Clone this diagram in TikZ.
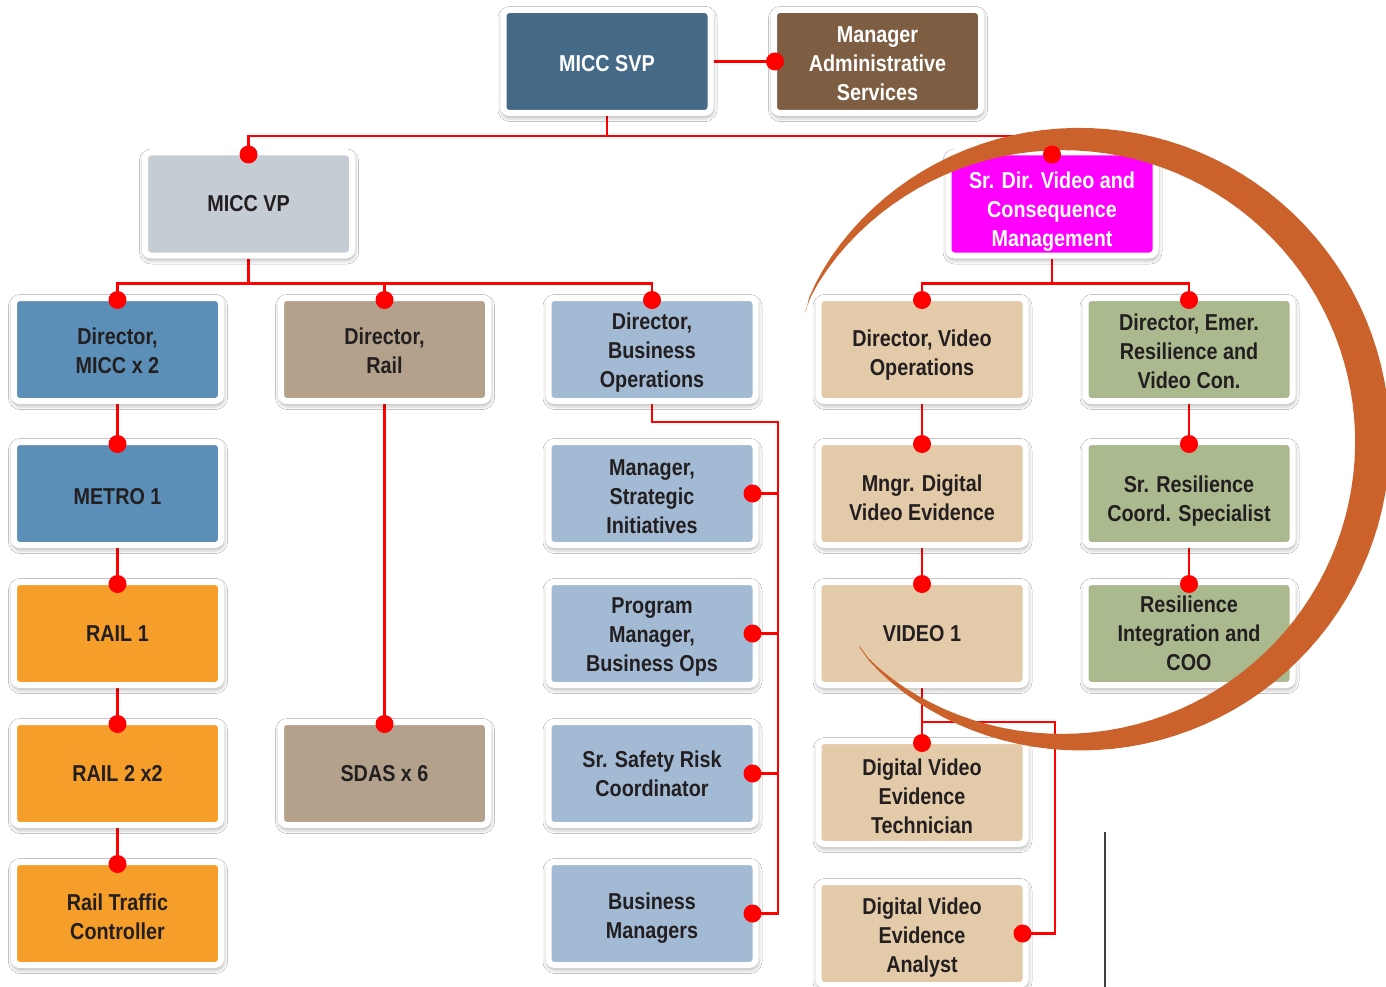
\documentclass[tikz,border=0pt]{standalone}
\usepackage{fontspec}
\setmainfont{Liberation Sans}[FakeStretch=0.86]
\usetikzlibrary{shadows.blur, backgrounds}
\definecolor{svpblue}{RGB}{69,106,135}
\definecolor{admbrown}{RGB}{125,94,66}
\definecolor{vpgrey}{RGB}{197,204,211}
\definecolor{miccblue}{RGB}{91,143,184}
\definecolor{railorange}{RGB}{246,158,42}
\definecolor{railtaupe}{RGB}{179,161,139}
\definecolor{bizblue}{RGB}{163,186,212}
\definecolor{srmagenta}{RGB}{255,0,255}
\definecolor{vidbeige}{RGB}{227,202,168}
\definecolor{resgreen}{RGB}{170,185,142}
\definecolor{swooshorange}{RGB}{203,97,43}
\definecolor{linkred}{RGB}{255,0,0}
\definecolor{txtdark}{RGB}{35,31,32}
% taller first line pushes the text a little lower in its box
\newcommand\dn[1][23pt]{\rule{0pt}{#1}}

\begin{document}
\begin{tikzpicture}[x=1pt, y=-1pt,
    font=\fontsize{23}{29}\selectfont\bfseries,
    box/.style={draw=white, line width=6pt, rounded corners=6pt,
        minimum width=207pt, minimum height=103pt, inner sep=0pt,
        align=center, text=txtdark,
        blur shadow={shadow xshift=0.5pt, shadow yshift=-2.5pt,
            shadow blur radius=6pt, shadow opacity=55}},
    link/.style={draw=linkred, line width=2.2pt},
    dot/.style={fill=linkred},
    declare function={ro(\s)=297+18*pow(abs(sin(180*\s))+0.001,0.4);
        ri(\s)=ro(\s)-35*sin(180*\s); ang(\s)=154.7-291.1*\s;}]

\useasboundingbox (0,0) rectangle (1386,987);

% =============================================================================
% TOP LEVEL
% =============================================================================
\node[box, fill=svpblue, text=white] (svp) at (607,61.5) {\dn[21pt]MICC SVP};
\node[box, fill=admbrown, text=white] (admin) at (877.5,61.5) {\dn[21pt]Manager\\Administrative\\Services};
\node[box, fill=vpgrey] (vp) at (248.5,204) {MICC VP};
\node[box, fill=srmagenta, text=white] (srdir) at (1052,204) {\dn[31pt]Sr. Dir. Video and\\Consequence\\Management};

% =============================================================================
% MICC / RAIL
% =============================================================================
\node[box, fill=miccblue] (dirmicc) at (117.5,349.5) {\dn[19pt]Director,\\MICC x 2};
\node[box, fill=miccblue] (metro) at (117.5,493.5) {\dn METRO 1};
\node[box, fill=railorange] (rail1) at (117.5,633.5) {RAIL 1};
\node[box, fill=railorange] (rail2) at (117.5,773.5) {RAIL 2 x2};
\node[box, fill=railorange] (railtc) at (117.5,913.5) {\dn Rail Traffic\\Controller};

\node[box, fill=railtaupe] (dirrail) at (384.5,349.5) {\dn[20pt]Director,\\Rail};
\node[box, fill=railtaupe] (sdas) at (384.5,773.5) {SDAS x 6};

% =============================================================================
% BUSINESS OPERATIONS
% =============================================================================
\node[box, fill=bizblue] (bizdir) at (652,349.5) {\dn Director,\\Business\\Operations};
\node[box, fill=bizblue] (strat) at (652,493.5) {\dn Manager,\\Strategic\\Initiatives};
\node[box, fill=bizblue] (progmgr) at (652,633.5) {\dn Program\\Manager,\\Business Ops};
\node[box, fill=bizblue] (safety) at (652,773.5) {Sr. Safety Risk\\Coordinator};
\node[box, fill=bizblue] (bizmgr) at (652,913.5) {\dn[25pt]Business\\Managers};

% =============================================================================
% VIDEO / RESILIENCE
% =============================================================================
\node[box, fill=vidbeige] (vidops) at (922,349.5) {\dn[27pt]Director, Video\\Operations};
\node[box, fill=vidbeige] (dve) at (922,493.5) {\dn[25pt]Mngr. Digital\\Video Evidence};
\node[box, fill=vidbeige] (video) at (922,633.5) {VIDEO 1};
\node[box, fill=vidbeige] (tech) at (922,792.5) {\dn[25pt]Digital Video\\Evidence\\Technician};
\node[box, fill=vidbeige] (analyst) at (922,933.5) {\dn[25pt]Digital Video\\Evidence\\Analyst};

\node[box, fill=resgreen] (emer) at (1189,349.5) {\dn[21pt]Director, Emer.\\Resilience and\\Video Con.};
\node[box, fill=resgreen] (resil) at (1189,493.5) {\dn[31pt]Sr. Resilience\\Coord. Specialist};
\node[box, fill=resgreen] (rescoo) at (1189,633.5) {Resilience\\Integration and\\COO};

% =============================================================================
% CONNECTORS (behind the boxes)
% =============================================================================
\begin{scope}[on background layer]
\fill[white] (0,0) rectangle (1386,987);
\draw[link] (svp) -- (admin);
\draw[link] (svp.south) -- ++(0,20) coordinate (t1);
\draw[link] (vp.north) |- (t1) -| (srdir.north);

\draw[link] (vp.south) -- ++(0,25) coordinate (t2);
\draw[link] (dirmicc.north) |- (t2) -| (bizdir.north);
\draw[link] (dirrail.north) -- (dirrail.north |- t2);

\draw[link] (srdir.south) -- ++(0,25) coordinate (t3);
\draw[link] (vidops.north) |- (t3) -| (emer.north);

\foreach \a/\b in {dirmicc/metro, metro/rail1, rail1/rail2, rail2/railtc,
    dirrail/sdas, vidops/dve, dve/video, video/tech, emer/resil, resil/rescoo}
    \draw[link] (\a) -- (\b);

% business bus
\coordinate (bus) at (778,422);
\draw[link] (bizdir.south) |- (bus) |- (bizmgr.east);
\foreach \n in {strat, progmgr, safety}
    \draw[link] (\n.east) -- (\n.east -| bus);

% video bus
\coordinate (vbus) at (1055,722);
\draw[link] (video.south) |- (vbus) |- (analyst.east);
\end{scope}

% stray rule
\draw[black!75, line width=1.2pt] (1105,832) -- (1105,987);

% =============================================================================
% SWOOSH
% =============================================================================
\fill[swooshorange]
    plot[domain=0:1, samples=100, variable=\s] ({1075+ro(\s)*cos(ang(\s))}, {440-ro(\s)*sin(ang(\s))})
    -- plot[domain=1:0, samples=100, variable=\s] ({1075+ri(\s)*cos(ang(\s))}, {440-ri(\s)*sin(ang(\s))})
    -- cycle;

% =============================================================================
% DOTS
% =============================================================================
\foreach \n in {vp, srdir, dirmicc, metro, rail1, rail2, railtc, dirrail, sdas,
    bizdir, vidops, dve, video, tech, emer, resil, rescoo}
    \fill[dot] ([yshift=-5pt]\n.north) circle[radius=9pt];
\foreach \n in {strat, progmgr, safety, bizmgr, analyst}
    \fill[dot] ([xshift=-6pt]\n.east) circle[radius=9pt];
\fill[dot] ([xshift=4pt]admin.west) circle[radius=9pt];

\end{tikzpicture}
\end{document}
